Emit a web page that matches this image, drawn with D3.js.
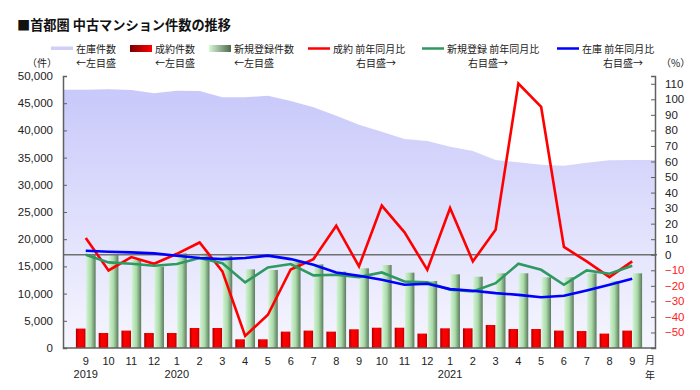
<!DOCTYPE html>
<html>
<head>
<meta charset="utf-8">
<script src="https://cdn.jsdelivr.net/npm/d3@7"></script>
<style>
  body { margin: 0; background: #fff; }
  svg { display: block; font-family: "Noto Sans CJK JP", "Noto Sans", sans-serif; }
  .num { font-family: "Liberation Sans", Arial, sans-serif; }
</style>
</head>
<body>
<div id="chart"></div>
<script>
// data (2019/9 .. 2021/9)
const months = ["9","10","11","12","1","2","3","4","5","6","7","8","9","10","11","12","1","2","3","4","5","6","7","8","9"];
const yearLabels = [{idx: 0, label: "2019"}, {idx: 4, label: "2020"}, {idx: 16, label: "2021"}];

// 在庫件数 (left axis)
const stock = [47480,47550,47430,46820,47300,47240,46080,46080,46380,45400,44250,42700,41050,
               39760,38420,38050,37000,36210,34560,34130,33700,33510,34060,34500,34560];
// 成約件数 (left axis)
const contracts = [3570,2760,3200,2760,2760,3680,3680,1600,1600,3010,3200,3010,3440,
                   3730,3730,2650,3620,3620,4230,3490,3490,3200,3120,2650,3200];
// 新規登録件数 (left axis)
const newListings = [17100,17100,16200,14950,17400,17400,16900,14450,14340,15870,15380,14030,14650,
                     15260,13850,12320,13540,13110,13730,13730,13000,13000,13730,12320,13730];
// 前年同月比 (%) (right axis)
const contractsYoY = [10.8,-10.1,-1.5,-5.8,0.6,7.9,-10.7,-52.2,-38.6,-9.5,-2.8,18.7,-7.5,
                      31.6,14.4,-9.7,30.1,-4.3,16.1,110.1,95.1,5.0,-4.3,-14.4,-4.3];
const listingsYoY = [0.0,-4.9,-5.8,-7.1,-6.0,-2.1,-5.4,-17.8,-8.2,-6.0,-13.3,-12.9,-14.4,
                     -11.4,-17.2,-17.8,-22.5,-23.6,-18.3,-5.8,-9.7,-19.3,-10.1,-12.2,-7.1];
const stockYoY = [2.6,1.9,1.5,0.9,-0.6,-2.1,-2.8,-2.1,-0.6,-2.8,-6.4,-11.4,-13.5,
                  -16.1,-19.3,-18.7,-22.1,-23.2,-24.7,-25.8,-27.3,-26.4,-23.0,-19.3,-15.5];

const leftTicks = [0,5000,10000,15000,20000,25000,30000,35000,40000,45000,50000];
const rightTicks = [-50,-40,-30,-20,-10,0,10,20,30,40,50,60,70,80,90,100,110];

const legendItems = [
  {name: "在庫件数", side: "←左目盛", type: "area"},
  {name: "成約件数", side: "←左目盛", type: "redbar"},
  {name: "新規登録件数", side: "←左目盛", type: "greenbar"},
  {name: "成約 前年同月比", side: "右目盛→", type: "line", color: "#ff0000"},
  {name: "新規登録 前年同月比", side: "右目盛→", type: "line", color: "#2e9960"},
  {name: "在庫 前年同月比", side: "右目盛→", type: "line", color: "#0000ff"}
];

const width = 700, height = 390;
const margin = {top: 76, right: 45, bottom: 42, left: 63};
const x0 = margin.left, x1 = width - margin.right;
const y0 = height - margin.bottom, y1 = margin.top;

const svg = d3.select("#chart").append("svg")
  .attr("width", width).attr("height", height);

const idx = d3.range(months.length);
const x = d3.scalePoint().domain(idx).range([x0, x1]).padding(1);
const step = x.step();
const yL = d3.scaleLinear().domain([0, 50000]).range([y0, y1]);
const yR = d3.scaleLinear().domain([-60, 115]).range([y0, y1]);

// gradients
const defs = svg.append("defs");
const gArea = defs.append("linearGradient").attr("id", "gArea")
  .attr("gradientUnits", "userSpaceOnUse").attr("x1", 0).attr("x2", 0).attr("y1", y1).attr("y2", y0);
gArea.append("stop").attr("offset", 0).attr("stop-color", "#c6c6fa");
gArea.append("stop").attr("offset", 1).attr("stop-color", "#f6f6ff");

const gRed = defs.append("linearGradient").attr("id", "gRed");
gRed.append("stop").attr("offset", 0).attr("stop-color", "#a00000");
gRed.append("stop").attr("offset", 0.3).attr("stop-color", "#ff0000");
gRed.append("stop").attr("offset", 0.8).attr("stop-color", "#f00000");
gRed.append("stop").attr("offset", 1).attr("stop-color", "#b00000");

const gGreen = defs.append("linearGradient").attr("id", "gGreen");
gGreen.append("stop").attr("offset", 0).attr("stop-color", "#d4f4d4");
gGreen.append("stop").attr("offset", 0.5).attr("stop-color", "#aadaaa");
gGreen.append("stop").attr("offset", 1).attr("stop-color", "#5a7a5a");

const gRedLeg = defs.append("linearGradient").attr("id", "gRedLeg");
gRedLeg.append("stop").attr("offset", 0).attr("stop-color", "#7a0000");
gRedLeg.append("stop").attr("offset", 1).attr("stop-color", "#ff0000");
const gGreenLeg = defs.append("linearGradient").attr("id", "gGreenLeg");
gGreenLeg.append("stop").attr("offset", 0).attr("stop-color", "#d8f8d8");
gGreenLeg.append("stop").attr("offset", 1).attr("stop-color", "#4a6a4a");

// area (stretches flat to the plot edges)
const areaPts = [[x0, stock[0]]]
  .concat(idx.map(i => [x(i), stock[i]]))
  .concat([[x1, stock[stock.length - 1]]]);
svg.append("path")
  .datum(areaPts)
  .attr("fill", "url(#gArea)")
  .attr("d", d3.area().x(d => d[0]).y0(y0).y1(d => yL(d[1])));

// bars
const barW = step * 0.42;
svg.append("g").selectAll("rect")
  .data(idx).join("rect")
  .attr("x", i => x(i) - barW - 0.3)
  .attr("y", i => yL(contracts[i]))
  .attr("width", barW)
  .attr("height", i => y0 - yL(contracts[i]))
  .attr("fill", "url(#gRed)");

svg.append("g").selectAll("rect")
  .data(idx).join("rect")
  .attr("x", i => x(i) + 0.3)
  .attr("y", i => yL(newListings[i]))
  .attr("width", barW)
  .attr("height", i => y0 - yL(newListings[i]))
  .attr("fill", "url(#gGreen)");

// zero line of right axis
svg.append("line")
  .attr("x1", x0).attr("x2", x1 + 2)
  .attr("y1", yR(0)).attr("y2", yR(0))
  .attr("stroke", "#707070").attr("stroke-width", 1.6);

// lines
const line = d3.line().x((d, i) => x(i)).y(d => yR(d));
[[contractsYoY, "#ff0000"], [listingsYoY, "#2e9960"], [stockYoY, "#0000ff"]].forEach(([s, c]) => {
  svg.append("path").datum(s)
    .attr("fill", "none").attr("stroke", c)
    .attr("stroke-width", 2.6).attr("stroke-linejoin", "miter")
    .attr("d", line);
});

// axes
const axisColor = "#606060";
const left = svg.append("g").attr("transform", `translate(${x0},0)`)
  .call(d3.axisRight(yL).tickValues(leftTicks).tickSize(4).tickFormat(""));
left.select(".domain").attr("stroke", axisColor).attr("stroke-width", 1.5);
left.selectAll(".tick line").attr("stroke", axisColor);
svg.append("g").selectAll("text")
  .data(leftTicks).join("text")
  .attr("class", "num")
  .attr("x", 53).attr("y", d => yL(d)).attr("dy", "0.35em")
  .attr("text-anchor", "end")
  .style("font-size", "11.5px").attr("fill", "#222")
  .text(d => d3.format(",")(d));

const right = svg.append("g").attr("transform", `translate(${x1},0)`)
  .call(d3.axisLeft(yR).tickValues(rightTicks).tickSize(4).tickFormat(""));
right.select(".domain").attr("stroke", axisColor).attr("stroke-width", 1.5);
right.selectAll(".tick line").attr("stroke", axisColor);
svg.append("g").selectAll("text")
  .data(rightTicks).join("text")
  .attr("class", "num")
  .attr("x", 665).attr("y", d => yR(d)).attr("dy", "0.35em")
  .style("font-size", "11.5px")
  .attr("fill", d => d < 0 ? "#ff2020" : "#222")
  .text(d => d < 0 ? "−" + Math.abs(d) : d);

svg.append("line")
  .attr("x1", x0).attr("x2", x1).attr("y1", y0).attr("y2", y0)
  .attr("stroke", axisColor).attr("stroke-width", 1.5);

// x labels
svg.append("g").selectAll("text")
  .data(idx).join("text")
  .attr("class", "num")
  .attr("x", i => x(i)).attr("y", 364.5)
  .attr("text-anchor", "middle")
  .style("font-size", "11px").attr("fill", "#222")
  .text(i => months[i]);
svg.append("g").selectAll("text")
  .data(yearLabels).join("text")
  .attr("class", "num")
  .attr("x", d => x(d.idx)).attr("y", 377.5)
  .attr("text-anchor", "middle")
  .style("font-size", "11px").attr("fill", "#222")
  .text(d => d.label);
svg.append("text").attr("x", 650).attr("y", 364).attr("text-anchor", "middle")
  .style("font-size", "10px").attr("fill", "#222").text("月");
svg.append("text").attr("x", 650).attr("y", 379).attr("text-anchor", "middle")
  .style("font-size", "10px").attr("fill", "#222").text("年");

// title
svg.append("text").attr("x", 17).attr("y", 30)
  .style("font-size", "13.2px").style("font-weight", "bold").attr("fill", "#111")
  .text("■首都圏 中古マンション件数の推移");

// legend
const legX = [51, 130, 209, 308, 422, 557];
const sideX = [76, 155, 234, 356, 468, 603];
const leg = svg.append("g").style("font-size", "10px").attr("fill", "#222");
legendItems.forEach((d, i) => {
  const lx = legX[i];
  if (d.type === "area") {
    leg.append("rect").attr("x", lx).attr("y", 46.5).attr("width", 22).attr("height", 3.5).attr("fill", "#cfcffa");
  } else if (d.type === "redbar") {
    leg.append("rect").attr("x", lx).attr("y", 45).attr("width", 22).attr("height", 7).attr("fill", "url(#gRedLeg)");
  } else if (d.type === "greenbar") {
    leg.append("rect").attr("x", lx).attr("y", 45).attr("width", 22).attr("height", 7).attr("fill", "url(#gGreenLeg)");
  } else {
    leg.append("line").attr("x1", lx).attr("x2", lx + 22).attr("y1", 48.5).attr("y2", 48.5)
      .attr("stroke", d.color).attr("stroke-width", 2.5);
  }
  leg.append("text").attr("x", lx + 25).attr("y", 52.5).text(d.name);
  leg.append("text").attr("x", sideX[i]).attr("y", 66.5).text(d.side);
});
leg.append("text").attr("x", 27).attr("y", 66.5).text("（件）");
leg.append("text").attr("x", 661).attr("y", 66.5).text("（%）");
</script>
</body>
</html>
